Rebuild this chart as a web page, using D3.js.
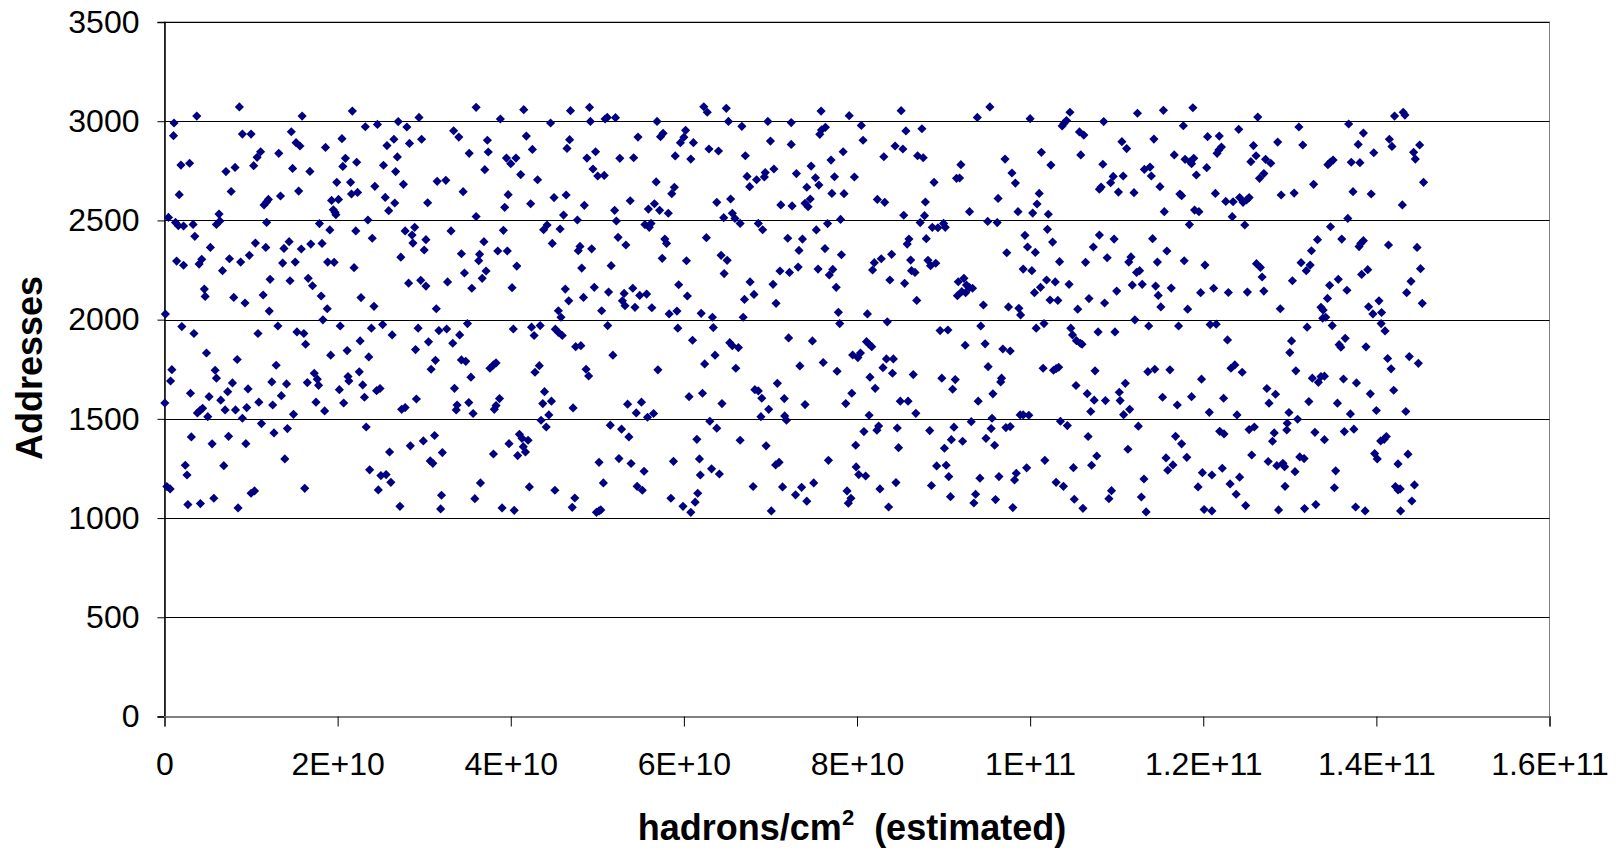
<!DOCTYPE html>
<html>
<head>
<meta charset="utf-8">
<script src="https://cdn.jsdelivr.net/npm/d3@7"></script>
<style>
  body { margin: 0; background: #fff; }
  text { font-family: "Liberation Sans", Arial, sans-serif; }
</style>
</head>
<body>
<div id="chart"></div>
<script>
// fluence in units of 1E9 hadrons/cm2, address
const FLUENCE_UNIT = 1e9;
const points = [
[8.65,3072],[3.73,3026],[15.9,3026],[21.7,3051],[29.4,3019],[36.0,3070],[1.1,2991],[27.0,2998],
[1.04,2927],[9.0,2935],[10.0,2935],[14.65,2947],[23.2,2972],[24.6,2984],[28.0,2971],[15.2,2892],[15.65,2875],[18.6,2868],[20.5,2912],[25.7,2877],[26.5,2909],[28.3,2888],[29.7,2909],[33.4,2952],[34.0,2920],[11.1,2846],[10.7,2818],[13.2,2838],[20.9,2813],[26.9,2820],[35.2,2838],[1.9,2779],[2.9,2788],[7.1,2746],[8.15,2767],[10.3,2776],[14.8,2762],[16.8,2747],[20.6,2772],[22.2,2793],[25.3,2778],[26.7,2746],[19.9,2692],[21.5,2692],[24.3,2672],[27.6,2682],[31.5,2697],[32.5,2702],[1.7,2630],[7.7,2646],[15.5,2648],[13.4,2623],[11.5,2578],[11.8,2593],[12.0,2606],[19.3,2601],[20.1,2606],[21.6,2633],[22.3,2641],[25.5,2616],[26.6,2588],[25.9,2549],[30.4,2589],[34.5,2645],[19.5,2554],[19.7,2541],[19.8,2529],[6.3,2532],[36.0,2520],[0.46,2515],
[6.0,2480],[6.4,2497],[1.27,2490],[1.6,2473],[2.2,2472],[3.3,2480],[3.5,2420],[11.8,2490],[17.9,2484],[19.1,2452],[22.1,2447],[23.5,2502],[24.0,2410],[27.8,2447],[28.9,2465],[28.6,2426],[28.7,2386],[30.2,2403],[30.0,2351],[33.1,2447],[34.3,2332],[5.3,2364],[10.5,2386],[11.7,2364],[13.8,2359],[14.4,2393],[15.8,2356],[16.9,2381],[18.2,2384],[1.4,2295],[2.2,2274],[4.0,2280],[4.3,2304],[6.7,2247],[7.5,2307],[8.8,2290],[9.8,2324],[13.65,2285],[15.1,2290],[18.85,2290],[19.6,2289],[21.9,2262],[27.3,2315],[34.65,2235],[4.6,2154],[4.7,2117],[8.0,2112],[9.3,2084],[11.4,2124],[12.1,2043],[12.2,2203],[14.5,2196],[16.6,2208],[17.1,2171],[18.1,2119],[18.8,2055],[22.7,2111],[24.2,2067],[28.2,2184],[29.6,2198],[30.2,2169],[31.4,2055],[32.7,2190],[35.5,2158],[0.1,2028],
[2.0,1965],[3.4,1930],[10.8,1930],[13.1,1968],[18.3,1999],[20.3,1968],[15.3,1938],[16.1,1930],[16.3,1876],[23.9,1957],[25.2,1975],[26.3,1923],[22.6,1893],[29.3,1957],[30.5,1888],[31.7,1945],[32.6,1953],[34.1,1923],[35.0,1980],[33.3,1881],[29.0,1849],[4.85,1832],[8.4,1799],[19.2,1821],[21.1,1844],[23.6,1812],[31.3,1795],[30.8,1750],[34.3,1797],[34.8,1790],[35.4,1710],[0.85,1748],[0.7,1691],[0.04,1580],[3.0,1629],[5.85,1745],[6.0,1705],[7.85,1681],[7.3,1637],[5.15,1612],[6.5,1594],[9.65,1651],[12.9,1770],[12.4,1686],[14.1,1676],[13.5,1617],[12.5,1570],[10.9,1584],[9.5,1557],[8.2,1545],[7.0,1545],[9.0,1503],[3.8,1530],[4.1,1542],[4.4,1553],[5.0,1511],[14.9,1523],[16.5,1683],[17.3,1730],[17.65,1700],[17.8,1669],[17.5,1584],[18.5,1540],[20.2,1647],[21.2,1713],[21.3,1691],[22.5,1737],[22.9,1671],[23.1,1609],[20.7,1580],[24.5,1642],[24.9,1653],[27.4,1548],[27.8,1557],[29.1,1600],[33.5,1654],[33.8,1570],[33.7,1545],[35.15,1582],[35.65,1527],
[11.2,1476],[12.65,1429],[14.2,1451],[23.3,1459],[3.1,1409],[5.5,1374],[7.4,1412],[9.4,1375],[13.9,1298],[2.4,1266],[2.6,1217],[6.85,1264],[0.27,1159],[0.65,1147],[2.7,1068],[4.15,1073],[5.7,1100],[8.5,1051],[10.0,1125],[10.4,1137],[16.2,1150],[23.7,1243],[25.0,1214],[25.6,1219],[26.15,1180],[24.7,1142],[27.2,1059],[26.0,1333],[28.4,1364],[29.9,1389],[31.2,1416],[30.7,1288],[31.0,1276],[32.1,1330],[32.0,1115],[31.9,1046],[35.85,1098],
[41.5,3058],[46.9,3053],[49.1,3070],[62.3,3073],[62.7,3045],[64.9,3065],[38.8,3011],[44.6,2991],[49.2,2999],[50.9,3011],[51.15,3019],[52.1,3018],[56.9,2999],[65.15,2999],[66.7,2974],[69.7,2999],[72.4,2993],[37.3,2904],[37.4,2845],[41.8,2925],[42.5,2858],[46.8,2907],[46.5,2863],[49.8,2846],[48.8,2814],[39.5,2814],[40.6,2814],[40.0,2786],[37.0,2756],[41.15,2731],[43.1,2705],[49.5,2759],[50.05,2724],[50.8,2727],[52.6,2813],[54.2,2816],[54.7,2920],[57.3,2922],[57.6,2939],[60.2,2954],[60.0,2919],[59.6,2892],[61.1,2892],[59.0,2825],[60.8,2809],[62.9,2860],[64.0,2850],[67.1,2826],[70.0,2900],[72.4,2883],[70.4,2759],[69.4,2741],[69.3,2719],[68.4,2705],[67.3,2722],[67.6,2670],[56.8,2694],[58.9,2667],[58.6,2635],[39.7,2630],[39.3,2566],[42.3,2584],[45.0,2615],[46.4,2628],[48.5,2576],[46.1,2527],[47.7,2502],[52.0,2551],[52.2,2497],[53.8,2599],[55.9,2557],[56.6,2584],[57.2,2551],[58.2,2536],[55.5,2479],[56.2,2485],[56.0,2465],[63.8,2591],[65.4,2608],[64.6,2514],[65.6,2536],[65.9,2510],[66.5,2485],[68.6,2485],[69.1,2453],[71.2,2578],[72.5,2573],
[39.15,2450],[36.9,2393],[36.4,2329],[36.3,2297],[37.15,2245],[36.7,2208],[38.5,2346],[39.6,2346],[40.7,2270],[40.15,2161],[43.8,2453],[44.2,2477],[45.7,2457],[44.8,2384],[48.0,2369],[47.8,2347],[49.35,2357],[48.2,2260],[52.4,2415],[53.3,2376],[51.6,2272],[57.8,2406],[58.0,2384],[57.5,2309],[60.3,2297],[62.6,2413],[64.3,2324],[65.0,2299],[64.65,2232],[72.0,2410],[71.1,2245],[72.2,2238],[46.3,2154],[46.7,2095],[48.4,2112],[49.65,2163],[51.3,2139],[53.1,2132],[52.9,2095],[53.2,2070],[54.1,2158],[54.9,2122],[55.7,2129],[54.35,2062],[56.3,2060],[59.4,2176],[60.4,2119],[67.65,2190],[68.1,2127],[67.0,2102],[70.3,2178],[70.65,2082],[50.5,2045],[45.5,2045],[59.2,2043],
[45.8,2012],[58.3,2029],[62.0,2032],[63.3,2012],[66.85,2012],[40.3,1953],[42.4,1962],[43.4,1970],[42.7,1920],[45.15,1952],[45.5,1936],[45.95,1920],[51.2,1970],[59.3,1957],[63.4,1960],[61.0,1896],[47.5,1864],[48.1,1869],[51.8,1821],[63.6,1821],[62.4,1777],[65.3,1884],[65.6,1869],[66.3,1859],[66.0,1755],[72.1,1908],[37.6,1755],[38.0,1772],[38.3,1782],[43.3,1768],[42.8,1735],[48.7,1750],[49.0,1716],[57.0,1747],[38.7,1602],[38.3,1567],[38.1,1548],[43.9,1637],[43.7,1577],[44.7,1589],[44.4,1520],[43.5,1493],[44.1,1459],[47.2,1555],[53.5,1574],[55.1,1584],[54.5,1530],[55.8,1508],[56.5,1527],[60.6,1612],[62.15,1629],[64.4,1577],[68.2,1647],[68.6,1641],[69.0,1604],[70.8,1679],[71.6,1602],[69.8,1548],[68.9,1511],[71.65,1515],[71.85,1493],[63.0,1488],[63.8,1453],[51.5,1468],[52.8,1448],[53.65,1409],[41.0,1422],[41.3,1402],[42.0,1392],[39.8,1375],[41.45,1360],[41.7,1333],[40.8,1315],[38.0,1323],[61.5,1397],[66.5,1392],[69.5,1364],[50.2,1281],[52.5,1300],[53.9,1275],[55.4,1236],[58.8,1286],[61.8,1298],[61.9,1217],[63.2,1248],[64.1,1222],[70.6,1268],[71.0,1281],[36.5,1177],[42.15,1157],[45.1,1140],[47.4,1101],[47.1,1054],[39.0,1051],[40.4,1039],[50.7,1177],[54.6,1160],[55.2,1140],[49.9,1029],[50.2,1036],[50.4,1041],[58.5,1100],[59.9,1059],[60.8,1029],[61.3,1080],[61.6,1125],[68.0,1159],[70.1,1036],[71.4,1157],
[73.0,2736],[75.85,3051],[79.1,3028],[85.1,3053],[93.9,3019],[95.35,3072],[100.0,3013],[104.6,3045],[103.7,2976],[103.9,2989],[104.2,3003],[108.5,2998],[75.7,2934],[75.9,2956],[76.35,2969],[80.5,2979],[80.7,2904],[85.65,2951],[87.5,2962],[84.4,2875],[85.3,2860],[83.1,2821],[87.0,2826],[87.65,2816],[105.7,2946],[106.2,2930],[105.85,2830],[101.3,2843],[102.4,2779],[97.1,2809],[97.9,2739],[98.3,2688],[92.0,2781],[91.5,2712],[91.85,2714],[88.9,2692],[108.4,2783],[108.0,2657],[108.2,2668],[78.4,2846],[77.0,2804],[74.7,2774],[75.2,2715],[77.4,2720],[79.7,2719],[74.2,2667],[75.6,2678],[77.1,2636],[78.5,2635],[74.6,2608],[74.0,2586],[74.35,2569],[82.35,2606],[83.2,2591],[87.9,2593],[85.4,2526],[87.8,2524],[87.3,2489],[78.1,2505],[76.6,2484],[93.0,2544],[96.3,2611],[95.1,2495],[96.2,2489],[98.6,2544],[100.3,2537],[100.8,2583],[101.05,2636],[102.1,2531],
[88.7,2465],[89.35,2463],[90.0,2485],[90.2,2465],[75.3,2452],[73.7,2406],[73.3,2349],[73.2,2265],[76.3,2358],[78.2,2327],[75.5,2255],[76.8,2225],[77.2,2253],[77.6,2163],[85.8,2381],[86.0,2406],[88.0,2408],[84.0,2329],[82.8,2307],[82.0,2287],[81.8,2250],[86.2,2300],[86.3,2247],[86.7,2238],[88.2,2299],[88.5,2272],[89.1,2284],[83.8,2200],[85.5,2183],[86.9,2097],[77.85,2037],[91.7,2191],[92.35,2208],[92.65,2174],[93.0,2161],[93.35,2158],[92.1,2141],[91.6,2121],[92.55,2136],[94.6,2074],[97.5,2064],[98.7,2057],[99.4,2425],[99.7,2366],[100.6,2339],[97.3,2337],[102.0,2455],[102.6,2391],[99.2,2255],[100.2,2247],[101.9,2200],[101.2,2163],[100.5,2136],[102.9,2190],[102.3,2099],[103.2,2097],[103.4,2292],[104.5,2178],[106.4,2289],[107.3,2366],[108.0,2426],[108.9,2312],[106.8,2106],[105.5,2053],[108.6,2084],
[81.2,2029],[98.9,2024],[78.0,1980],[83.5,1989],[89.6,1945],[90.5,1948],[94.3,1968],[100.7,1957],[101.6,1980],[104.7,1957],[104.9,1923],[105.35,1894],[105.8,1881],[106.0,1876],[107.85,1938],[74.85,1893],[81.1,1889],[81.4,1876],[81.7,1864],[79.5,1822],[80.4,1832],[80.1,1809],[76.1,1784],[73.4,1767],[77.7,1740],[83.4,1802],[84.2,1802],[83.0,1758],[84.1,1730],[81.5,1710],[82.1,1654],[79.4,1629],[78.7,1577],[74.0,1572],[85.0,1589],[85.9,1589],[86.5,1723],[86.8,1528],[81.4,1518],[92.5,1871],[94.8,1878],[96.85,1852],[97.7,1842],[95.15,1763],[89.8,1705],[91.35,1698],[91.05,1649],[96.6,1686],[96.7,1705],[95.7,1626],[94.0,1589],[101.5,1755],[102.7,1745],[103.0,1753],[103.3,1760],[107.5,1742],[105.3,1668],[106.6,1627],[107.4,1594],[108.7,1592],[107.0,1537],[95.6,1503],[98.85,1520],[99.2,1520],[99.85,1518],
[93.2,1486],[95.5,1451],[97.2,1456],[97.7,1461],[103.5,1488],[104.3,1466],[106.7,1411],[80.8,1436],[82.3,1443],[82.5,1464],[84.65,1454],[88.4,1441],[91.2,1458],[90.9,1395],[92.2,1387],[94.9,1402],[95.9,1367],[90.1,1352],[84.8,1355],[79.85,1367],[76.7,1291],[79.9,1258],[80.2,1219],[81.0,1212],[89.2,1263],[90.3,1266],[90.6,1209],[94.2,1201],[96.4,1209],[98.4,1226],[98.2,1192],[99.6,1253],[101.7,1291],[105.0,1254],[107.1,1266],[107.7,1313],[72.9,1117],[73.6,1155],[75.0,1177],[74.2,1085],[78.85,1137],[79.3,1100],[79.0,1075],[82.65,1147],[83.65,1056],[84.5,1179],[88.6,1164],[90.8,1108],[93.7,1120],[93.5,1076],[96.0,1093],[98.0,1053],[103.0,1180],[103.85,1160],[105.1,1095],[106.1,1049],
[112.4,3040],[115.4,3055],[118.8,3068],[126.3,3021],[142.1,3026],[143.1,3045],[143.3,3031],[117.7,2977],[124.1,2959],[131.05,2971],[136.8,2986],[110.6,2897],[111.15,2862],[114.3,2910],[120.5,2922],[121.85,2925],[122.1,2870],[121.8,2855],[121.6,2838],[125.8,2877],[128.6,2895],[131.5,2880],[138.5,2940],[137.9,2883],[139.7,2841],[141.5,2909],[141.8,2873],[145.0,2880],[144.3,2843],[144.5,2809],[116.65,2830],[117.9,2808],[118.5,2796],[118.9,2813],[118.65,2786],[120.4,2766],[119.2,2729],[126.1,2826],[125.5,2796],[127.2,2808],[127.8,2788],[127.0,2736],[126.5,2712],[134.4,2781],[134.7,2794],[135.0,2804],[137.1,2793],[138.1,2791],[113.2,2757],[113.85,2769],[114.0,2724],[110.75,2724],[109.6,2722],[109.3,2690],[110.2,2643],[112.0,2640],[115.0,2670],[117.3,2633],[117.5,2625],[121.4,2636],[122.6,2596],[123.45,2594],[124.2,2615],[124.6,2591],[125.0,2603],[125.3,2615],[129.0,2628],[130.5,2638],[132.75,2682],[137.3,2645],[139.4,2633],[145.45,2692],[143.0,2578],[115.5,2544],[119.0,2552],[119.5,2544],[123.35,2519],[118.4,2479],[124.8,2477],[134.7,2468],[136.7,2510],
[109.7,2406],[114.15,2408],[115.8,2346],[111.65,2316],[111.4,2290],[112.3,2238],[112.65,2247],[114.7,2290],[117.8,2297],[120.2,2275],[126.15,2282],[126.6,2263],[126.8,2215],[110.0,2144],[111.8,2174],[112.95,2178],[114.5,2169],[114.8,2122],[116.3,2159],[115.1,2064],[118.2,2053],[119.7,2136],[121.2,2158],[122.9,2137],[125.1,2139],[127.0,2144],[128.9,2055],[130.3,2196],[131.3,2287],[131.9,2247],[132.35,2275],[132.5,2347],[133.2,2403],[136.0,2406],[138.0,2368],[138.2,2384],[138.5,2398],[141.4,2376],[144.7,2364],[145.1,2257],[144.0,2193],[143.5,2136],[145.3,2082],[138.3,2228],[139.0,2252],[135.6,2203],[134.6,2173],[136.6,2148],[134.35,2107],[133.6,2062],[139.1,2065],[140.3,2095],[133.85,2048],
[139.6,2029],[140.6,2036],[112.1,1999],[113.7,1968],[117.15,1968],[120.8,1975],[121.5,1977],[109.8,1938],[122.8,1898],[132.0,1962],[133.8,2007],[134.15,2012],[134.9,1970],[140.55,1980],[141.0,1943],[136.4,1906],[135.7,1874],[135.9,1861],[138.8,1863],[130.2,1893],[130.0,1834],[141.3,1804],[143.8,1814],[144.85,1780],[141.7,1752],[113.6,1738],[114.4,1750],[116.15,1747],[123.2,1755],[123.65,1772],[124.5,1735],[130.7,1742],[119.8,1700],[111.0,1679],[110.3,1634],[110.4,1592],[111.5,1548],[110.8,1521],[115.3,1609],[117.0,1570],[118.65,1612],[120.7,1533],[122.35,1604],[123.9,1520],[127.35,1653],[128.35,1624],[127.6,1579],[129.9,1532],[130.9,1498],[132.2,1587],[132.6,1705],[133.3,1684],[133.6,1713],[134.0,1715],[136.2,1701],[137.7,1681],[139.3,1626],[142.0,1644],[135.5,1579],[137.0,1525],[140.0,1542],[143.4,1537],
[112.5,1463],[111.3,1347],[116.8,1412],[117.5,1374],[115.7,1303],[116.5,1268],[115.9,1241],[118.1,1306],[121.9,1437],[122.4,1424],[125.3,1446],[125.9,1459],[128.2,1429],[128.0,1387],[129.7,1478],[129.65,1444],[125.6,1318],[127.5,1285],[128.5,1264],[129.2,1276],[129.4,1259],[131.15,1308],[131.65,1300],[130.6,1234],[132.9,1432],[134.0,1395],[136.3,1436],[137.4,1448],[140.5,1389],[140.9,1397],[141.15,1411],[139.8,1325],[140.1,1298],[143.65,1322],[142.5,1273],[135.3,1238],[135.15,1153],[113.15,1197],[109.4,1138],[109.1,1098],[112.85,1106],[113.4,1031],[119.4,1157],[119.9,1229],[121.0,1217],[122.2,1251],[123.1,1172],[124.2,1206],[123.8,1120],[124.9,1063],[120.1,1043],[121.0,1036],[128.7,1041],[129.45,1160],[131.7,1048],[133.0,1068],[137.6,1056],[138.7,1036],[142.2,1159],[142.5,1142],[142.75,1147],[144.4,1167],[144.1,1086],[142.8,1036]
];

const xTicks = [0, 2e10, 4e10, 6e10, 8e10, 1e11, 1.2e11, 1.4e11, 1.6e11];
const xTickLabels = ["0", "2E+10", "4E+10", "6E+10", "8E+10", "1E+11", "1.2E+11", "1.4E+11", "1.6E+11"];
const yTicks = [0, 500, 1000, 1500, 2000, 2500, 3000, 3500];
const yTickLabels = ["0", "500", "1000", "1500", "2000", "2500", "3000", "3500"];

const w = 1623;
const h = 850;
const plotLeft = 164.5, plotRight = 1549.5, plotTop = 22, plotBottom = 716.5;

const svg = d3.select("#chart").append("svg")
    .attr("width", w)
    .attr("height", h);

const xScale = d3.scaleLinear().domain([0, 1.6e11]).range([plotLeft, plotRight]);
const yScale = d3.scaleLinear().domain([0, 3500]).range([plotBottom, plotTop]);

// plot area frame
svg.append("rect")
    .attr("x", plotLeft).attr("y", plotTop)
    .attr("width", plotRight - plotLeft).attr("height", plotBottom - plotTop)
    .attr("fill", "#fff")
    .attr("stroke", "#808080")
    .attr("stroke-width", 1);

// horizontal gridlines
svg.append("g")
    .selectAll("line")
    .data(yTicks.filter(d => d > 0))
    .enter()
    .append("line")
    .attr("x1", plotLeft).attr("x2", plotRight)
    .attr("y1", d => Math.round(yScale(d)) + 0.5)
    .attr("y2", d => Math.round(yScale(d)) + 0.5)
    .attr("stroke", "#000")
    .attr("stroke-width", 1);

// axes
const yAxis = d3.axisLeft(yScale).tickValues(yTicks).tickSize(7).tickPadding(18)
    .tickFormat((d, i) => yTickLabels[i]);
const xAxis = d3.axisBottom(xScale).tickValues(xTicks).tickSize(10).tickPadding(26)
    .tickFormat((d, i) => xTickLabels[i]);

const gy = svg.append("g")
    .attr("transform", "translate(" + plotLeft + ",0)")
    .call(yAxis);
gy.select(".domain").attr("stroke", "#000").attr("stroke-width", 1.5);
gy.selectAll(".tick line").attr("stroke", "#000");
gy.selectAll("text")
    .attr("font-family", "Liberation Sans, Arial, sans-serif")
    .attr("font-size", 32)
    .attr("fill", "#000");

const gx = svg.append("g")
    .attr("transform", "translate(0," + plotBottom + ")")
    .call(xAxis);
gx.select(".domain").attr("stroke", "#808080").attr("stroke-width", 2);
gx.selectAll(".tick line").attr("stroke", "#000");
gx.selectAll("text")
    .attr("font-family", "Liberation Sans, Arial, sans-serif")
    .attr("font-size", 32)
    .attr("fill", "#000");

// points
const diamond = d3.symbol().type(d3.symbolSquare).size(42);
svg.append("g")
    .selectAll("path")
    .data(points)
    .enter()
    .append("path")
    .attr("d", diamond)
    .attr("transform", d => "translate(" + xScale(d[0] * FLUENCE_UNIT) + "," + yScale(d[1]) + ") rotate(45)")
    .attr("fill", "#000080");

// axis titles
svg.append("text")
    .attr("transform", "translate(29,368) rotate(-90)")
    .attr("text-anchor", "middle")
    .attr("dominant-baseline", "central")
    .attr("font-size", 36)
    .attr("font-weight", "bold")
    .text("Addresses");

const xt = svg.append("text")
    .attr("x", 852)
    .attr("y", 840)
    .attr("text-anchor", "middle")
    .attr("font-size", 36)
    .attr("font-weight", "bold")
    .attr("xml:space", "preserve");
xt.append("tspan").text("hadrons/cm");
xt.append("tspan").attr("font-size", 22).attr("dy", -15).text("2");
xt.append("tspan").attr("dy", 15).text("\u00a0 (estimated)");
</script>
</body>
</html>
